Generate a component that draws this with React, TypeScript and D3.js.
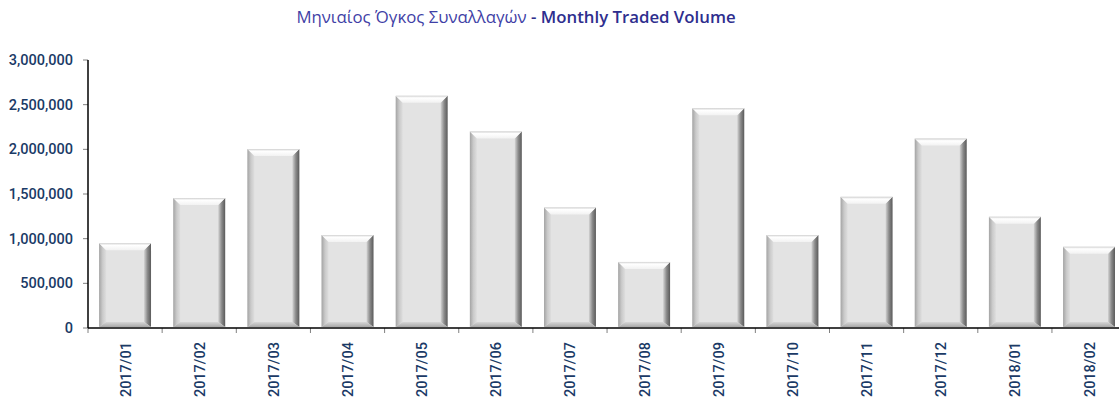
import React from "react";
import * as d3 from "d3";

const categories = ["2017/01","2017/02","2017/03","2017/04","2017/05","2017/06","2017/07","2017/08","2017/09","2017/10","2017/11","2017/12","2018/01","2018/02"];
const volumes = [950000,1455000,2003000,1041000,2600000,2200000,1350000,740000,2460000,1041000,1468000,2120000,1246000,910000];
const yTicks = [0,500000,1000000,1500000,2000000,2500000,3000000];
const titleGreek = "Μηνιαίος Όγκος Συναλλαγών";
const titleEnglish = " - Monthly Traded Volume";

const W = 1119, H = 400;
const left = 88, top = 60, bottom = 328;
const band = 74.15;

export default function App() {
  const x = d3.scaleBand<string>().domain(categories).range([left, left + band * categories.length]).paddingInner(0.3).paddingOuter(0.15);
  const y = d3.scaleLinear().domain([0, 3000000]).range([bottom, top]);
  const fmt = d3.format(",");
  const bw = x.bandwidth();
  const b = 7;
  const bb = 5;
  const edges = categories.map((_, i) => left + band * i);
  edges.push(left + band * categories.length);
  return (
    <svg width={W} height={H} style={{ position: "absolute", left: 0, top: 0 }} fontFamily="Roboto, 'Liberation Sans', Arial, sans-serif">
      <defs>
        <linearGradient id="gL" x1="0" x2="1" y1="0" y2="0">
          <stop offset="0" stopColor="#a4a4a4" />
          <stop offset="0.5" stopColor="#cacaca" />
          <stop offset="1" stopColor="#dedede" />
        </linearGradient>
        <linearGradient id="gR" x1="0" x2="1" y1="0" y2="0">
          <stop offset="0" stopColor="#d4d4d4" />
          <stop offset="0.5" stopColor="#8a8a8a" />
          <stop offset="1" stopColor="#5a5a5a" />
        </linearGradient>
        <linearGradient id="gT" x1="0" x2="0" y1="0" y2="1">
          <stop offset="0" stopColor="#d0d0d0" />
          <stop offset="0.3" stopColor="#ffffff" />
          <stop offset="1" stopColor="#f2f2f2" />
        </linearGradient>
        <linearGradient id="gB" x1="0" x2="0" y1="0" y2="1">
          <stop offset="0" stopColor="#d6d6d6" />
          <stop offset="1" stopColor="#a8a8a8" />
        </linearGradient>
      </defs>
      <text x={516} y={23} textAnchor="middle" fontSize={16.8} fontFamily="'Open Sans', 'Noto Sans', sans-serif">
        <tspan fill="#3f3fa6">{titleGreek}</tspan>
        <tspan fill="#2e2e8e" fontWeight={600}>{titleEnglish}</tspan>
      </text>
      {categories.map((c, i) => {
        const x0 = x(c)!;
        const x1 = x0 + bw;
        const y0 = y(volumes[i]);
        const y1 = bottom - 1;
        return (
          <g key={c}>
            <rect x={x0} y={y0} width={bw} height={y1 - y0} fill="#e3e3e3" />
            <polygon points={`${x0},${y0} ${x0 + b},${y0 + b} ${x0 + b},${y1 - bb} ${x0},${y1}`} fill="url(#gL)" />
            <polygon points={`${x1},${y0} ${x1 - b},${y0 + b} ${x1 - b},${y1 - bb} ${x1},${y1}`} fill="url(#gR)" />
            <polygon points={`${x0},${y0} ${x1},${y0} ${x1 - b},${y0 + b} ${x0 + b},${y0 + b}`} fill="url(#gT)" />
            <polygon points={`${x0},${y1} ${x1},${y1} ${x1 - b},${y1 - bb} ${x0 + b},${y1 - bb}`} fill="url(#gB)" />
          </g>
        );
      })}
      {yTicks.map((t) => (
        <g key={t}>
          <line x1={left - 5} x2={left} y1={y(t)} y2={y(t)} stroke="#808080" strokeWidth={1} />
          <text x={73} y={y(t) + 5} textAnchor="end" fontSize={14.5} fontWeight={500} fill="#1a3a66">{fmt(t)}</text>
        </g>
      ))}
      {edges.map((e, i) => (
        <line key={i} x1={e} x2={e} y1={bottom} y2={bottom + 5} stroke="#808080" strokeWidth={1} />
      ))}
      <line x1={left} x2={left} y1={top} y2={bottom} stroke="#000" strokeWidth={1.5} />
      <line x1={left} x2={W} y1={bottom} y2={bottom} stroke="#000" strokeWidth={1.5} />
      {categories.map((c) => {
        const cx = x(c)! + bw / 2;
        return (
          <text key={c} transform={`translate(${cx + 5.5},${342}) rotate(-90)`} textAnchor="end" fontSize={14.5} fontWeight={500} fill="#1a3a66">{c}</text>
        );
      })}
    </svg>
  );
}
